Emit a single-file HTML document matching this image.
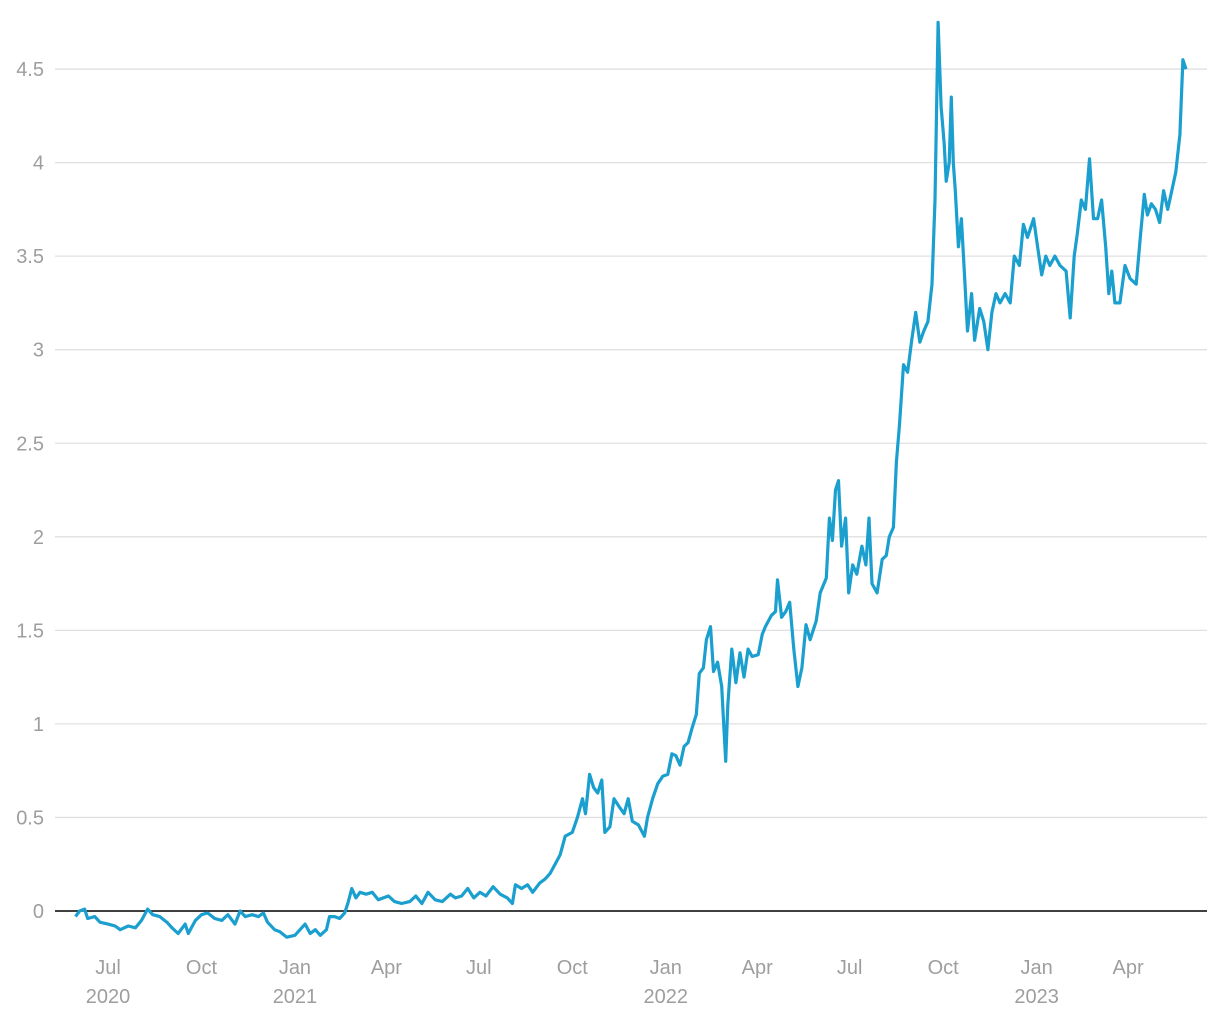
<!DOCTYPE html>
<html><head><meta charset="utf-8"><style>
html,body{margin:0;padding:0;background:#fff;}
svg{display:block;font-family:"Liberation Sans",sans-serif;}
</style></head><body>
<svg id="chart" width="1220" height="1020"></svg>
<script>
const days=[-32,-28,-23,-20,-13,-8,0,7,12,20,27,33,39,44,51,58,63,69,76,79,86,92,98,105,112,118,125,130,135,142,148,153,157,164,169,176,184,189,194,199,204,209,215,218,223,228,233,236,240,244,248,254,260,266,271,276,282,289,297,303,309,315,322,329,337,342,348,354,360,366,372,379,386,393,398,401,407,413,418,425,430,435,441,445,450,457,462,467,470,474,478,482,486,489,494,498,504,508,512,516,522,528,531,536,541,546,551,555,559,563,567,571,575,579,582,586,589,593,596,600,604,608,610,614,618,622,626,630,634,640,644,647,653,657,659,663,667,671,675,679,683,687,691,697,701,707,710,713,716,719,722,726,729,733,737,742,746,749,752,757,762,766,769,773,776,779,783,787,791,795,799,803,807,811,814,817,820,823,825,828,830,832,834,837,840,843,846,850,853,858,862,866,870,874,878,883,888,892,897,901,905,911,915,919,923,927,932,937,943,947,951,954,958,962,966,970,974,978,982,985,988,991,996,1001,1006,1012,1016,1020,1023,1027,1031,1035,1039,1043,1047,1051,1055,1058,1061];
const values=[-0.03,0.0,0.01,-0.04,-0.03,-0.06,-0.07,-0.08,-0.1,-0.08,-0.09,-0.05,0.01,-0.02,-0.03,-0.06,-0.09,-0.12,-0.07,-0.12,-0.05,-0.02,-0.01,-0.04,-0.05,-0.02,-0.07,0.0,-0.03,-0.02,-0.03,-0.01,-0.06,-0.1,-0.11,-0.14,-0.13,-0.1,-0.07,-0.12,-0.1,-0.13,-0.1,-0.03,-0.03,-0.04,-0.01,0.04,0.12,0.07,0.1,0.09,0.1,0.06,0.07,0.08,0.05,0.04,0.05,0.08,0.04,0.1,0.06,0.05,0.09,0.07,0.08,0.12,0.07,0.1,0.08,0.13,0.09,0.07,0.04,0.14,0.12,0.14,0.1,0.15,0.17,0.2,0.26,0.3,0.4,0.42,0.5,0.6,0.52,0.73,0.66,0.63,0.7,0.42,0.45,0.6,0.55,0.52,0.6,0.48,0.46,0.4,0.5,0.6,0.68,0.72,0.73,0.84,0.83,0.78,0.88,0.9,0.98,1.05,1.27,1.3,1.45,1.52,1.28,1.33,1.2,0.8,1.1,1.4,1.22,1.38,1.25,1.4,1.36,1.37,1.48,1.52,1.58,1.6,1.77,1.57,1.6,1.65,1.4,1.2,1.3,1.53,1.45,1.55,1.7,1.78,2.1,1.98,2.25,2.3,1.95,2.1,1.7,1.85,1.8,1.95,1.85,2.1,1.75,1.7,1.88,1.9,2.0,2.05,2.4,2.6,2.92,2.88,3.05,3.2,3.04,3.1,3.15,3.35,3.8,4.75,4.3,4.1,3.9,4.0,4.35,4.0,3.85,3.55,3.7,3.4,3.1,3.3,3.05,3.22,3.15,3.0,3.2,3.3,3.25,3.3,3.25,3.5,3.45,3.67,3.6,3.7,3.55,3.4,3.5,3.45,3.5,3.45,3.42,3.17,3.5,3.62,3.8,3.75,4.02,3.7,3.7,3.8,3.55,3.3,3.42,3.25,3.25,3.45,3.38,3.35,3.6,3.83,3.72,3.78,3.75,3.68,3.85,3.75,3.85,3.95,4.15,4.55,4.5];
const yTicks=[0,0.5,1,1.5,2,2.5,3,3.5,4,4.5];
const yTickLabels=["0","0.5","1","1.5","2","2.5","3","3.5","4","4.5"];
const xTickDays=[0,92,184,274,365,457,549,639,730,822,914,1004];
const xTickLabels=["Jul","Oct","Jan","Apr","Jul","Oct","Jan","Apr","Jul","Oct","Jan","Apr"];
const xTickYears=["2020","","2021","","","","2022","","","","2023",""];

const NS="http://www.w3.org/2000/svg";
const svg=document.getElementById('chart');
const X=d=>108+d*1.016;
const Y=v=>911-v*187.1;
function mk(tag,attrs){const e=document.createElementNS(NS,tag);for(const k in attrs)e.setAttribute(k,attrs[k]);svg.appendChild(e);return e;}

yTicks.forEach((t,i)=>{
  if(t!==0){
    const g=mk('line',{x1:55,x2:1207,y1:Y(t),y2:Y(t),stroke:'#e0e0e0','stroke-width':1.3});
    
    
  }
  const tx=mk('text',{x:44,y:Y(t)+7,'text-anchor':'end','font-size':20,fill:'#9e9e9e'});
  tx.textContent=yTickLabels[i];
  
  
});
xTickDays.forEach((d,i)=>{
  const t=mk('text',{x:X(d),y:974,'text-anchor':'middle','font-size':20,fill:'#9e9e9e'});
  t.textContent=xTickLabels[i];
  
  
  if(xTickYears[i]){
    const y=mk('text',{x:X(d),y:1003,'text-anchor':'middle','font-size':20,fill:'#9e9e9e'});
    y.textContent=xTickYears[i];
    
    
  }
});
const z=mk('line',{x1:55,x2:1207,y1:Y(0),y2:Y(0),stroke:'#000','stroke-width':1.5});


const p=mk('path',{d:days.map((d,i)=>(i?'L':'M')+X(d).toFixed(1)+','+Y(values[i]).toFixed(1)).join(''),fill:'none',stroke:'#1a9fcf','stroke-width':3.2,'stroke-linejoin':'round'});


</script>
</body></html>
